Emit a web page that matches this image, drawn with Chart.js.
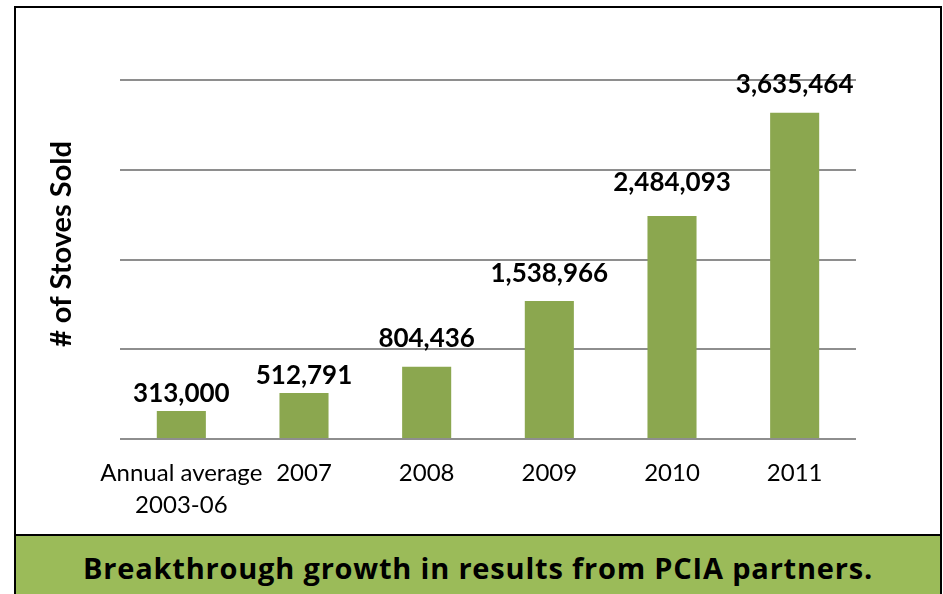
<!DOCTYPE html>
<html>
<head>
<meta charset="utf-8">
<title># of Stoves Sold</title>
<script src="https://cdn.jsdelivr.net/npm/chart.js@4.4.1/dist/chart.umd.min.js"></script>
<style>
  html, body { margin: 0; padding: 0; background: #fff; width: 943px; height: 594px; overflow: hidden; }
  #frame { position: absolute; left: 14px; top: 6px; width: 928px; height: 610px; border: 2px solid #000; box-sizing: border-box; }
  #banner { position: absolute; left: 14px; top: 534px; width: 928px; height: 80px; box-sizing: border-box;
            border: 2px solid #000; background: #9BBB59; color: #000;
            font: bold 29px "Open Sans", Lato, sans-serif; letter-spacing: 0.8px;
            text-align: center; line-height: 64px; }
  #chart { position: absolute; left: 0; top: 0; }
</style>
</head>
<body>
<div id="frame"></div>
<canvas id="chart" width="943" height="534"></canvas>
<div id="banner">Breakthrough growth in results from PCIA partners.</div>
<script>
// Stoves sold by PCIA partners, per period
const categories = [["Annual average", "2003-06"], "2007", "2008", "2009", "2010", "2011"];
const stovesSold = [313000, 512791, 804436, 1538966, 2484093, 3635464];
const yTicks = [0, 1000000, 2000000, 3000000, 4000000];

const axisTitle = "# of Stoves Sold";
const barColor = "#8BA74F";
const gridColor = "#8E8E8E";
// gap in px between each bar top and the baseline of its value label
const labelLift = [9, 9, 20, 19, 25, 20];

const valueLabels = {
  id: "valueLabels",
  afterDatasetsDraw(chart) {
    const ctx = chart.ctx;
    const meta = chart.getDatasetMeta(0);
    ctx.save();
    ctx.font = "bold 26px Lato, 'Open Sans', sans-serif";
    ctx.fillStyle = "#000";
    ctx.textAlign = "center";
    ctx.textBaseline = "alphabetic";
    meta.data.forEach((bar, i) => {
      const v = chart.data.datasets[0].data[i];
      ctx.fillText(v.toLocaleString("en-US"), bar.x, bar.y - labelLift[i]);
    });
    ctx.restore();
  }
};

const sideTitle = {
  id: "sideTitle",
  afterDraw(chart) {
    const ctx = chart.ctx;
    ctx.save();
    ctx.translate(62, 244);
    ctx.rotate(-Math.PI / 2);
    ctx.font = "bold 29px Lato, 'Open Sans', sans-serif";
    ctx.fillStyle = "#000";
    ctx.textAlign = "center";
    ctx.textBaseline = "middle";
    ctx.fillText(axisTitle, 0, 0);
    ctx.restore();
  }
};

new Chart(document.getElementById("chart"), {
  type: "bar",
  data: {
    labels: categories,
    datasets: [{
      data: stovesSold,
      backgroundColor: barColor,
      borderWidth: 0,
      categoryPercentage: 1,
      barPercentage: 0.4
    }]
  },
  options: {
    responsive: false,
    animation: false,
    devicePixelRatio: 1,
    layout: { padding: { left: 120, right: 87, top: 80, bottom: 0 } },
    plugins: { legend: { display: false }, tooltip: { enabled: false }, title: { display: false } },
    scales: {
      x: {
        grid: { display: false, drawTicks: false },
        border: { display: false },
        ticks: {
          color: "#000",
          padding: 19,
          maxRotation: 0,
          autoSkip: false,
          font: { family: "Lato, 'Open Sans', sans-serif", size: 24, lineHeight: 1.31 }
        },
        afterFit(scale) { scale.height = 95; }
      },
      y: {
        min: 0,
        max: 4000000,
        afterBuildTicks(scale) { scale.ticks = yTicks.map(v => ({ value: v })); },
        grid: { color: gridColor, lineWidth: 2, drawTicks: false },
        border: { display: false },
        ticks: { display: false },
        afterFit(scale) { scale.width = 0; }
      }
    }
  },
  plugins: [valueLabels, sideTitle]
});
</script>
</body>
</html>
